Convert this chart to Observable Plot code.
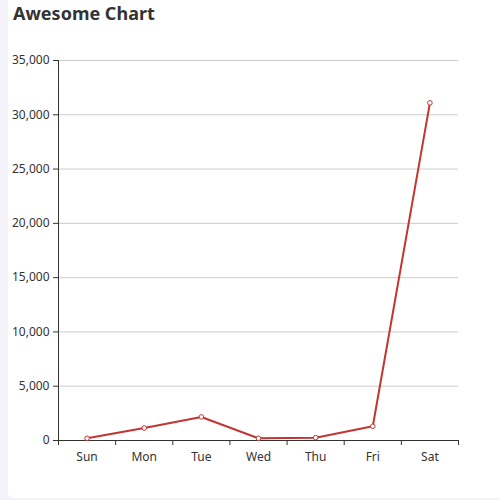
<!DOCTYPE html>
<html>
<head>
<meta charset="utf-8">
<script src="https://cdn.jsdelivr.net/npm/d3@7"></script>
<script src="https://cdn.jsdelivr.net/npm/@observablehq/plot@0.6"></script>
<style>
  body { margin: 0; background: #f2f2f8; font-family: "Noto Sans", sans-serif; }
  #card { position: absolute; left: 8px; top: -4px; width: 520px; height: 502px; background: #fff; border-radius: 5px; }
  #title { position: absolute; left: 13px; top: 1px; font-size: 18px; font-weight: bold; color: #333; z-index: 2; }
  #chart { position: absolute; left: 0; top: 0; }
</style>
</head>
<body>
<div id="card"></div>
<div id="title">Awesome Chart</div>
<div id="chart"></div>
<script>
// categories and values
const days = ["Sun", "Mon", "Tue", "Wed", "Thu", "Fri", "Sat"]
const values = [200, 1150, 2170, 200, 260, 1310, 31100]
const yTicks = [0, 5000, 10000, 15000, 20000, 25000, 30000, 35000]

const data = days.map((d, i) => ({day: d, pos: i + 0.5, value: values[i]}))
const red = "#c23531"

let chart = Plot.plot({
  width: 500,
  height: 500,
  marginLeft: 58,
  marginRight: 42,
  marginTop: 60,
  marginBottom: 60,
  style: {
    fontFamily: "Noto Sans",
    fontSize: "12px",
    color: "#333",
    background: "transparent",
  },
  x: {domain: [0, days.length], axis: null},
  y: {domain: [0, 35000], axis: null},
  marks: [
    Plot.ruleY(yTicks.slice(1), {stroke: "#ccc", strokeOpacity: 1}),
    // boundary ticks between categories
    Plot.axisX({ticks: d3.range(days.length + 1), tickFormat: () => "", tickSize: 5, stroke: "#333", strokeOpacity: 1, label: null}),
    // category labels at band centers
    Plot.axisX({ticks: data.map(d => d.pos), tickFormat: (t) => days[Math.floor(t)], tickSize: 0, tickPadding: 12, fill: "#333", fontSize: 12, label: null}),
    Plot.axisY({ticks: yTicks, tickFormat: d3.format(","), tickSize: 5, tickPadding: 4, stroke: "#333", strokeOpacity: 1, fill: "#333", fontSize: 12, label: null}),
    Plot.ruleX([0], {stroke: "#333", strokeWidth: 1}),
    Plot.ruleY([0], {stroke: "#333", strokeWidth: 1}),
    Plot.line(data, {x: "pos", y: "value", stroke: red, strokeWidth: 2}),
    Plot.dot(data, {x: "pos", y: "value", r: 2.3, fill: "white", stroke: red, strokeWidth: 1})
  ]
})

d3.select('#chart').append(() => chart)
</script>
</body>
</html>
